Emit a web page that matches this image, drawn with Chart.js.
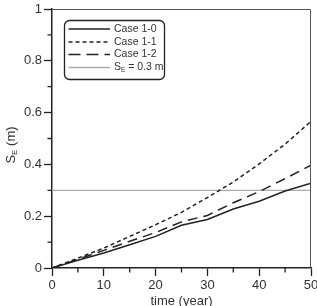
<!DOCTYPE html>
<html>
<head>
<meta charset="utf-8">
<script src="https://cdn.jsdelivr.net/npm/chart.js@4/dist/chart.umd.min.js"></script>
<style>
html,body{margin:0;padding:0;background:#fff;}
#wrap{width:317px;height:306px;}
</style>
</head>
<body>
<div id="wrap"><canvas id="c" width="317" height="306"></canvas></div>
<script>
const years = [0, 5, 10, 15, 20, 25, 30, 35, 40, 45, 50];
const case10 = [0, 0.03, 0.058, 0.09, 0.122, 0.165, 0.187, 0.228, 0.258, 0.297, 0.327];
const case11 = [0, 0.038, 0.077, 0.122, 0.167, 0.215, 0.272, 0.332, 0.402, 0.478, 0.566];
const case12 = [0, 0.034, 0.068, 0.103, 0.137, 0.178, 0.203, 0.252, 0.295, 0.345, 0.397];
const limitX = [0, 50];
const limitY = [0.3, 0.3];
const seriesNames = ['Case 1-0', 'Case 1-1', 'Case 1-2'];
const xTicks = [0, 10, 20, 30, 40, 50];
const yTicks = [0, 0.2, 0.4, 0.6, 0.8, 1];

const FONT = '"Liberation Sans", Arial, sans-serif';
const INK = '#222';

function pts(xs, ys){ return xs.map((x,i)=>({x:x, y:ys[i]})); }

const datasets = [
  {label: seriesNames[0], data: pts(years, case10), borderColor: INK, borderWidth: 1.5, borderDash: []},
  {label: seriesNames[1], data: pts(years, case11), borderColor: INK, borderWidth: 1.5, borderDash: [4,3]},
  {label: seriesNames[2], data: pts(years, case12), borderColor: INK, borderWidth: 1.5, borderDash: [10,6]},
  {label: 'SE = 0.3 m', data: pts(limitX, limitY), borderColor: '#aaaaaa', borderWidth: 1.3, borderDash: []}
];
datasets.forEach(d=>{ d.pointRadius=0; d.tension=0; d.fill=false; });

const decor = {
  id: 'decor',
  afterDraw(chart){
    const ctx = chart.ctx, a = chart.chartArea;
    const xs = chart.scales.x, ys = chart.scales.y;
    ctx.save();
    ctx.strokeStyle = '#555'; ctx.lineWidth = 1;
    ctx.beginPath();
    ctx.moveTo(a.left, a.top+0.5); ctx.lineTo(a.right-0.5, a.top+0.5); ctx.lineTo(a.right-0.5, a.bottom);
    ctx.stroke();
    ctx.strokeStyle = INK; ctx.lineWidth = 1.3;
    ctx.beginPath();
    for (let i=0;i<xTicks.length-1;i++){
      const px = xs.getPixelForValue((xTicks[i]+xTicks[i+1])/2);
      ctx.moveTo(px, a.bottom); ctx.lineTo(px, a.bottom+4.5);
    }
    for (let i=0;i<yTicks.length-1;i++){
      const py = ys.getPixelForValue((yTicks[i]+yTicks[i+1])/2);
      ctx.moveTo(a.left, py); ctx.lineTo(a.left-4.5, py);
    }
    ctx.stroke();
    ctx.fillStyle = '#333';
    ctx.translate(11, 145);
    ctx.rotate(-Math.PI/2);
    ctx.textBaseline = 'middle';
    ctx.font = '13px ' + FONT;
    const w1 = ctx.measureText('S').width;
    ctx.font = '8px ' + FONT;
    const w2 = ctx.measureText('E').width;
    ctx.font = '13px ' + FONT;
    const w3 = ctx.measureText(' (m)').width;
    let x0 = -(w1+w2+w3)/2;
    ctx.textAlign = 'left';
    ctx.fillText('S', x0, 0);
    ctx.font = '8px ' + FONT;
    ctx.fillText('E', x0+w1, 3.5);
    ctx.font = '13px ' + FONT;
    ctx.fillText(' (m)', x0+w1+w2, 0);
    ctx.restore();

    ctx.save();
    const bx=64.5, by=20.5, bw=100, bh=59, r=5;
    ctx.fillStyle='#fff';
    ctx.strokeStyle=INK; ctx.lineWidth=1.3;
    ctx.beginPath();
    ctx.moveTo(bx+r,by); ctx.lineTo(bx+bw-r,by); ctx.arcTo(bx+bw,by,bx+bw,by+r,r);
    ctx.lineTo(bx+bw,by+bh-r); ctx.arcTo(bx+bw,by+bh,bx+bw-r,by+bh,r);
    ctx.lineTo(bx+r,by+bh); ctx.arcTo(bx,by+bh,bx,by+bh-r,r);
    ctx.lineTo(bx,by+r); ctx.arcTo(bx,by,bx+r,by,r);
    ctx.closePath(); ctx.fill(); ctx.stroke();
    const rows=[29,42,54.5,67.5];
    chart.data.datasets.forEach((d,i)=>{
      ctx.strokeStyle=d.borderColor; ctx.lineWidth=d.borderWidth;
      ctx.setLineDash(i===2?[12,6]:d.borderDash);
      ctx.beginPath(); ctx.moveTo(68.5, rows[i]); ctx.lineTo(110, rows[i]); ctx.stroke();
      ctx.setLineDash([]);
      ctx.fillStyle='#333'; ctx.textBaseline='middle'; ctx.textAlign='left';
      ctx.font='10.5px '+FONT;
      if (i<3){
        ctx.fillText(d.label, 114, rows[i]);
      } else {
        ctx.fillText('S', 114, rows[i]);
        const ws = ctx.measureText('S').width;
        ctx.font='6.5px '+FONT;
        ctx.fillText('E', 114+ws, rows[i]+3);
        const we = ctx.measureText('E').width;
        ctx.font='10.5px '+FONT;
        ctx.fillText(' = 0.3 m', 114+ws+we, rows[i]);
      }
    });
    ctx.restore();
  }
};

new Chart(document.getElementById('c'), {
  type: 'line',
  data: {datasets},
  options: {
    responsive: false,
    animation: false,
    devicePixelRatio: 1,
    layout: {padding: {top: 9, right: 6, left: 0, bottom: 0}},
    plugins: {legend: {display: false}, tooltip: {enabled: false}},
    scales: {
      x: {
        type: 'linear', min: 0, max: 50,
        afterFit(s){ s.height = 38; s.paddingRight = 0; s.paddingLeft = 0; },
        afterBuildTicks(s){ s.ticks = xTicks.map(v=>({value:v})); },
        border: {display: true, color: INK, width: 1.5},
        grid: {drawOnChartArea: false, drawTicks: true, tickLength: 8, color: INK, tickWidth: 1.3},
        ticks: {color: '#333', font: {family: FONT, size: 13}, padding: 2, maxRotation: 0},
        title: {display: true, text: 'time (year)', color: '#333', font: {family: FONT, size: 13}, padding: {top: 1, bottom: -3}}
      },
      y: {
        type: 'linear', min: 0, max: 1,
        afterFit(s){ s.width = 52; s.paddingTop = 0; s.paddingBottom = 0; },
        afterBuildTicks(s){ s.ticks = yTicks.map(v=>({value:v})); },
        border: {display: true, color: INK, width: 1.5},
        grid: {drawOnChartArea: false, drawTicks: true, tickLength: 8, color: INK, tickWidth: 1.3},
        ticks: {color: '#333', font: {family: FONT, size: 13}, padding: 2, callback: v => String(v)}
      }
    }
  },
  plugins: [decor]
});
</script>
</body>
</html>
